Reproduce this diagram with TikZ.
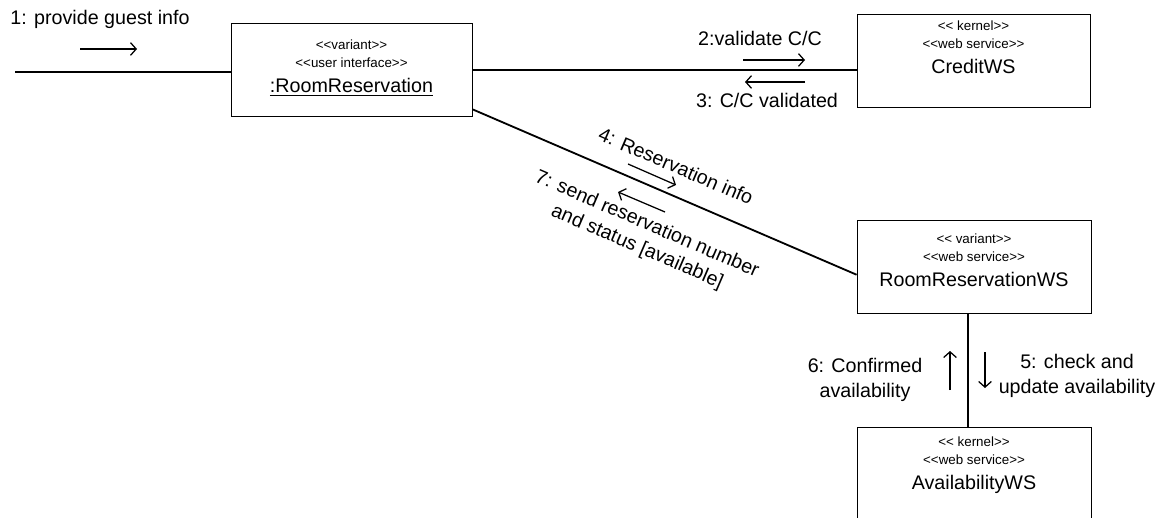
\documentclass[tikz,border=0pt]{standalone}
\usepackage{fontspec}
\setmainfont{Liberation Sans}
\usetikzlibrary{arrows.meta}
\newcommand{\stereo}[1]{<{}<#1>{}>}

\begin{document}
\begin{tikzpicture}[x=0.025cm, y=-0.025cm, >={Straight Barb[length=4pt,width=9pt]},
  box/.style={draw, line width=0.6pt, inner sep=0pt},
  boxtext/.style={align=center, inner sep=0pt, font=\fontsize{9.5}{12.8}\selectfont},
  msglabel/.style={align=center, inner sep=1pt, font=\fontsize{14}{17.5}\selectfont},
  link/.style={line width=1.3pt},
  msg/.style={->, line width=0.9pt}]
\useasboundingbox (0,0) rectangle (1168,518);
% objects
\node[box, minimum width=6.025cm, minimum height=2.325cm] (room) at (351.5,70) {};
\node[boxtext] (roomtxt) at (351.5,68) {\stereo{variant}\\\stereo{user interface}\\[5pt]{\fontsize{14}{16}\selectfont\underline{:RoomReservation}}};
\node[box, minimum width=5.825cm, minimum height=2.325cm] (credit) at (973.5,60.5) {};
\node[boxtext] (credittxt) at (973.5,47) {\stereo{ kernel}\\\stereo{web service}\\[5pt]{\fontsize{14}{16}\selectfont CreditWS}};
\node[box, minimum width=5.85cm, minimum height=2.325cm] (rrws) at (974,266.5) {};
\node[boxtext] (rrwstxt) at (974,260) {\stereo{ variant}\\\stereo{web service}\\[5pt]{\fontsize{14}{16}\selectfont RoomReservationWS}};
\node[box, minimum width=5.85cm, minimum height=2.825cm] (avail) at (974,483.5) {};
\node[boxtext] (availtxt) at (974,465) {\stereo{ kernel}\\\stereo{web service}\\[5pt]{\fontsize{14}{16}\selectfont AvailabilityWS}};
% links
\coordinate (in) at (15,72);
\draw[link] (in) -- (in -| room.west);
\draw[link] (room.east) -- (credit.west |- room.east);
\draw[link] (room.-18) -- (rrws.184);
\draw[link] ([xshift=-0.15cm]rrws.south) -- ([xshift=-0.15cm]avail.north);
% messages
\node[msglabel] (m1) at (100,19) {1: provide guest info};
\draw[msg] (80,49) -- (137,49);
\node[msglabel] (m2) at (760,38) {2:validate C/C};
\draw[msg] (743,60) -- (805,60);
\draw[msg] (805,82) -- (745,82);
\node[msglabel] (m3) at (767,100) {3: C/C validated};
\node[msglabel, rotate=-23.3] (m4) at (676,166) {4: Reservation info};
\draw[msg] (628,164) -- (676,185);
\draw[msg] (665,212) -- (618,192);
\node[msglabel, rotate=-23.3] (m7) at (642,236) {7: send reservation number\\and status [available]};
\node[msglabel] (m5) at (1077,376) {5: check and\\update availability};
\node[msglabel] (m6) at (865,380) {6: Confirmed\\availability};
\draw[msg] (950,390) -- (950,351);
\draw[msg] (985,352) -- (985,388);
\end{tikzpicture}
\end{document}
